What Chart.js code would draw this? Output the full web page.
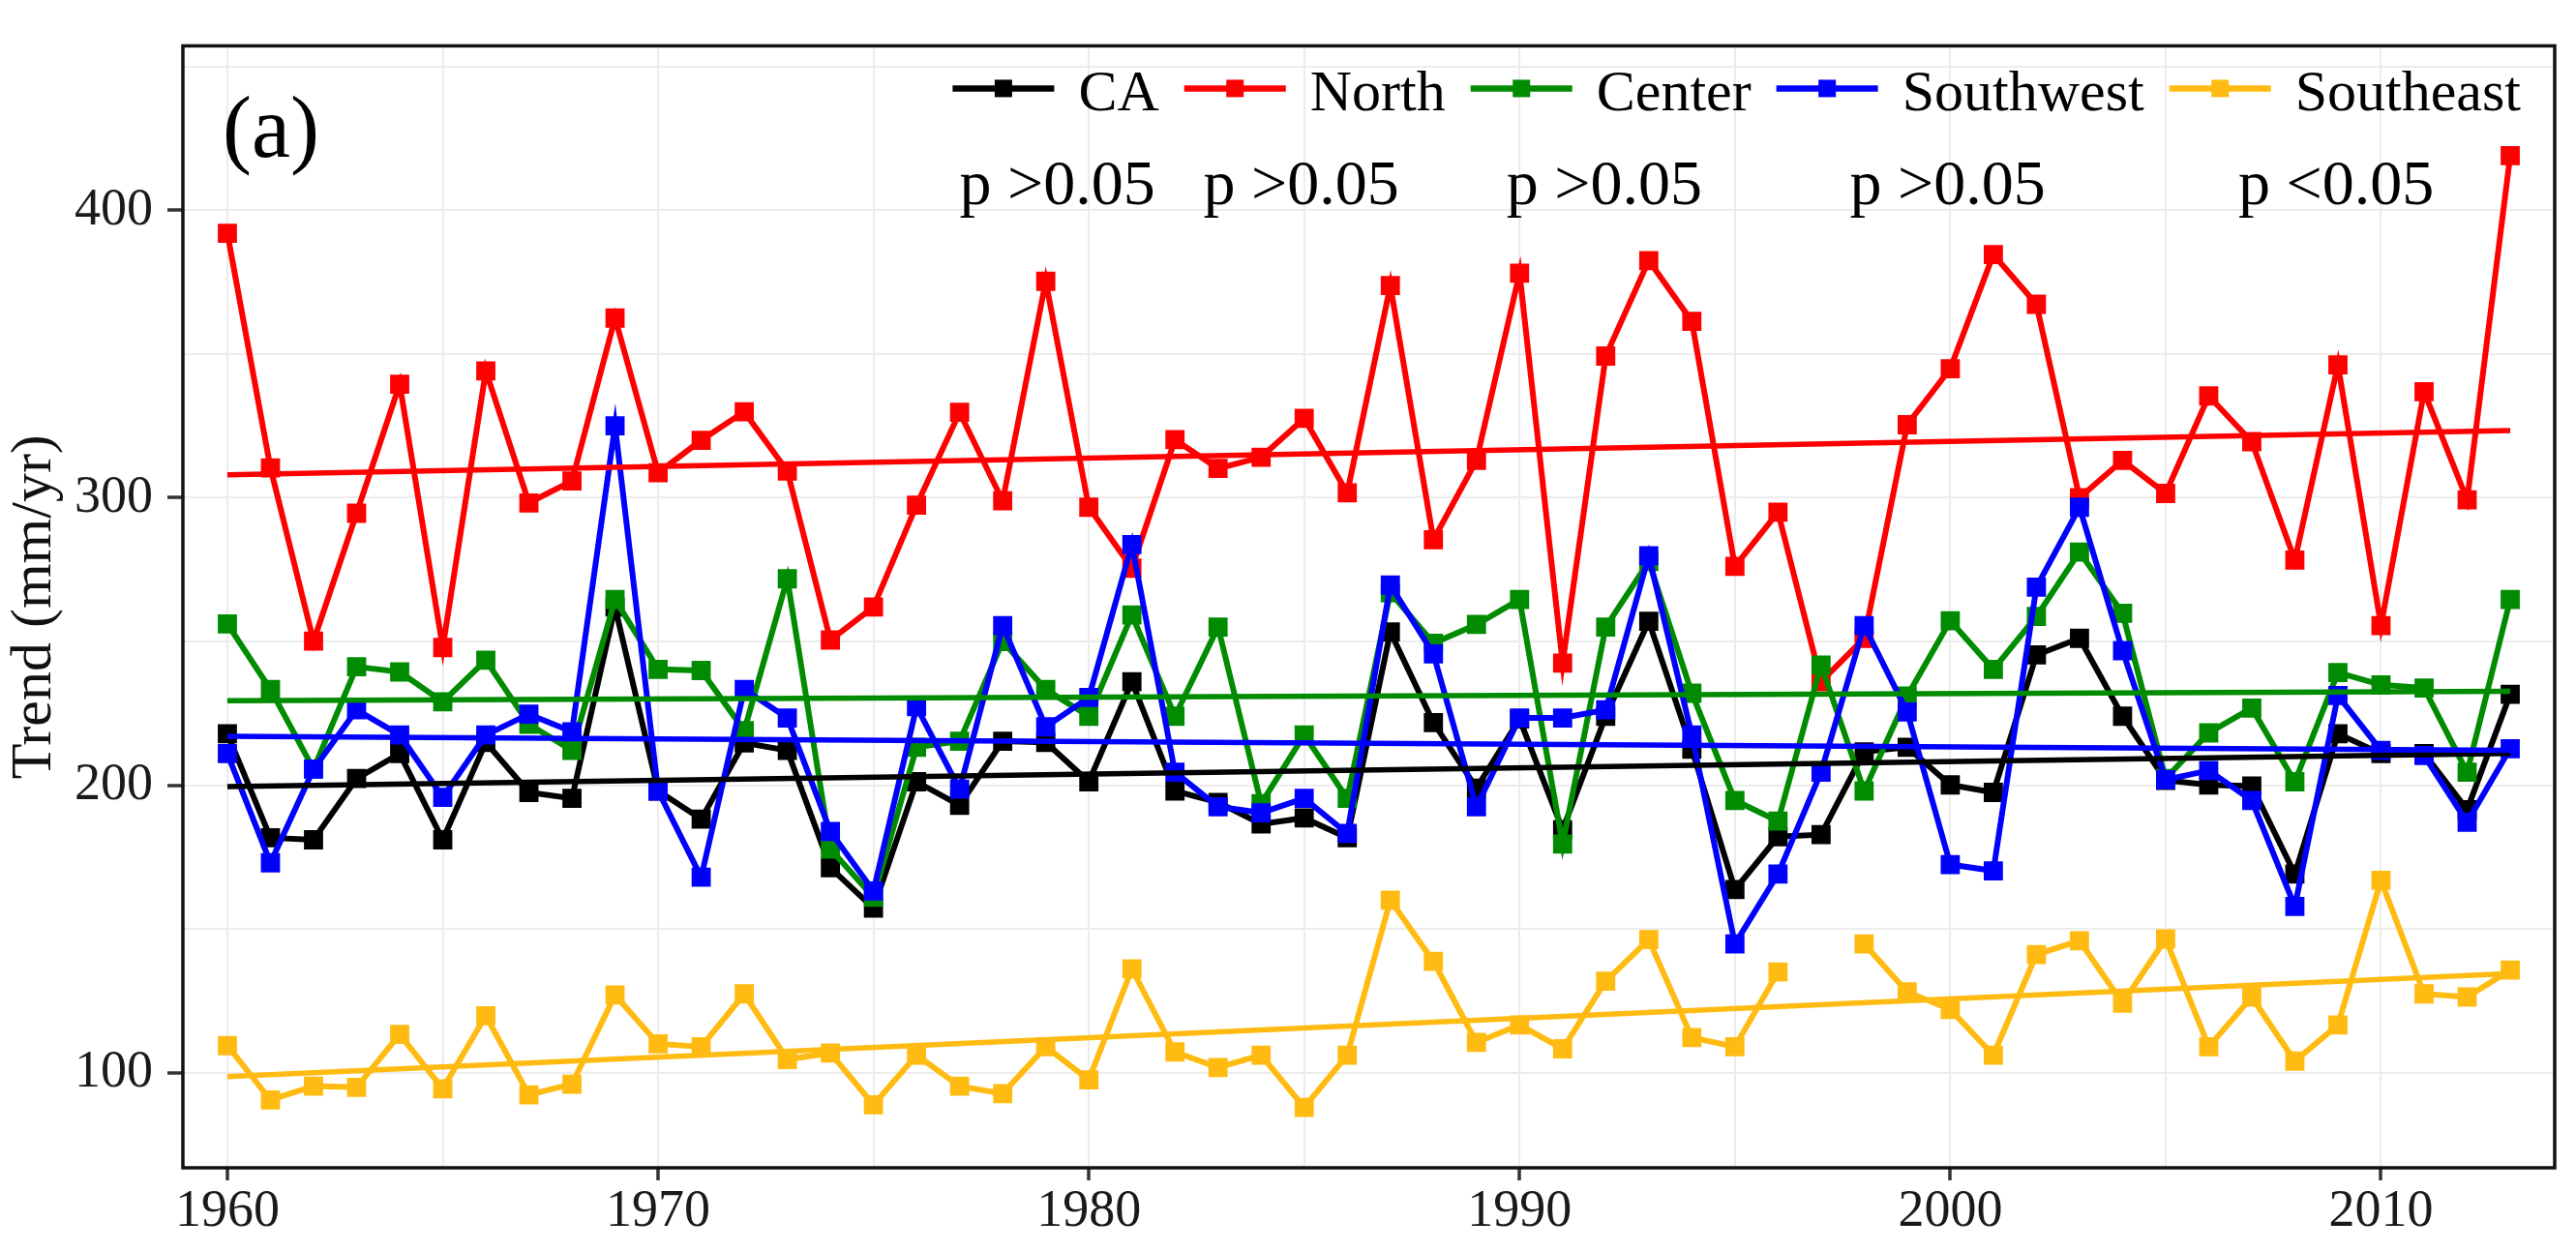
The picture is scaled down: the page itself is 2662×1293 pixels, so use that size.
<!DOCTYPE html>
<html>
<head>
<meta charset="utf-8">
<title>Trend (mm/yr)</title>
<script src="https://cdn.jsdelivr.net/npm/chart.js@4.4.1/dist/chart.umd.min.js"></script>
<style>
  html, body { margin: 0; padding: 0; background: #fff; }
  #trendChart { display: block; }
</style>
</head>
<body>
<canvas id="trendChart" width="2662" height="1293"></canvas>
<script>
// years on the x axis
const years = [1960, 1961, 1962, 1963, 1964, 1965, 1966, 1967, 1968, 1969,
               1970, 1971, 1972, 1973, 1974, 1975, 1976, 1977, 1978, 1979,
               1980, 1981, 1982, 1983, 1984, 1985, 1986, 1987, 1988, 1989,
               1990, 1991, 1992, 1993, 1994, 1995, 1996, 1997, 1998, 1999,
               2000, 2001, 2002, 2003, 2004, 2005, 2006, 2007, 2008, 2009,
               2010, 2011, 2012, 2013];

const seriesNames = ["CA", "North", "Center", "Southwest", "Southeast"];

const caValues = [217.9, 181.7, 181.0, 202.3, 211.0, 181.0, 214.9, 197.5, 195.4, 262.0,
                  198.0, 188.2, 214.7, 212.1, 171.3, 157.2, 201.2, 193.0, 215.3, 214.9,
                  201.2, 236.0, 198.0, 194.0, 186.5, 188.6, 181.7, 253.3, 221.8, 199.0,
                  223.0, 184.5, 224.0, 257.0, 212.5, 163.7, 182.1, 182.8, 211.6, 213.2,
                  200.1, 197.5, 245.3, 251.1, 224.0, 201.7, 200.1, 199.7, 169.1, 217.9,
                  211.0, 211.0, 191.5, 231.6];

const northValues = [392.0, 310.4, 250.1, 294.6, 339.5, 247.9, 344.1, 298.2, 305.8, 362.5,
                     308.7, 320.0, 329.9, 309.3, 250.5, 262.0, 297.4, 329.7, 298.9, 375.3,
                     296.7, 275.5, 320.2, 310.2, 314.1, 327.6, 301.7, 373.8, 285.4, 313.0,
                     378.1, 242.5, 349.3, 382.5, 361.4, 276.1, 295.0, 236.0, 251.1, 325.4,
                     344.9, 384.6, 367.3, 300.0, 313.0, 301.5, 335.4, 319.5, 278.3, 346.2,
                     255.5, 336.9, 299.3, 419.0];

const centerValues = [256.1, 233.3, 205.6, 241.2, 239.4, 229.0, 243.5, 221.2, 212.1, 264.6,
                      240.3, 239.9, 219.0, 271.8, 177.8, 161.0, 213.2, 215.3, 250.0, 233.3,
                      224.0, 259.2, 224.0, 255.0, 193.6, 217.5, 195.4, 267.0, 249.4, 255.9,
                      264.6, 179.5, 255.0, 277.8, 232.0, 194.7, 187.5, 241.8, 198.0, 231.0,
                      257.2, 240.3, 258.7, 281.1, 259.8, 202.3, 218.2, 226.8, 201.2, 239.2,
                      234.9, 233.8, 204.5, 264.6];

const southwestValues = [211.0, 173.0, 205.6, 226.2, 217.5, 195.8, 217.5, 224.7, 218.6, 325.0,
                         198.0, 168.0, 233.3, 223.4, 183.9, 163.2, 227.3, 198.6, 255.5, 220.3,
                         230.5, 283.7, 204.5, 192.5, 190.4, 195.4, 183.2, 269.6, 245.7, 192.5,
                         223.4, 223.4, 226.2, 279.8, 217.5, 144.8, 169.1, 204.5, 255.5, 225.5,
                         172.4, 170.2, 268.9, 296.7, 246.8, 201.9, 205.1, 194.7, 157.8, 231.2,
                         212.1, 210.3, 187.1, 212.7];

// 1997 is missing for the southeast
const southeastValues = [109.4, 90.5, 95.3, 94.9, 113.3, 94.4, 119.8, 92.3, 96.0, 127.0,
                         110.0, 109.0, 127.4, 104.6, 106.8, 88.8, 106.1, 95.3, 92.7, 109.0,
                         97.5, 136.1, 107.2, 101.8, 106.1, 87.9, 106.1, 160.0, 138.7, 110.5,
                         116.6, 108.3, 131.8, 146.3, 112.2, 109.0, 135.0, null, 144.8, 128.1,
                         122.0, 106.1, 141.1, 145.9, 124.2, 146.5, 109.0, 126.3, 104.0, 116.6,
                         166.9, 127.4, 126.3, 135.7];

// fitted trend lines, value at 1960 and at 2013
const trendStart = [199.5, 308.0, 229.4, 217.0, 98.6];
const trendEnd   = [211.0, 323.4, 232.7, 212.1, 134.5];

const pLabels = ["p >0.05", "p >0.05", "p >0.05", "p >0.05", "p <0.05"];

const xTickLabels = [1960, 1970, 1980, 1990, 2000, 2010];
const xGridValues = [1960, 1965, 1970, 1975, 1980, 1985, 1990, 1995, 2000, 2005, 2010];
const yTickLabels = [100, 200, 300, 400];
const yGridValues = [100, 150, 200, 250, 300, 350, 400, 450];

const colors = ["#000000", "#ff0000", "#008b00", "#0000ff", "#ffbb12"];
const serif = "'Liberation Serif', 'DejaVu Serif', serif";

const allValues = [caValues, northValues, centerValues, southwestValues, southeastValues];

function toPoints(values) {
    return years.map((yr, i) => ({ x: yr, y: values[i] }));
}

const datasets = [];
allValues.forEach((vals, i) => {
    datasets.push({
        label: seriesNames[i],
        data: toPoints(vals),
        borderColor: colors[i],
        backgroundColor: colors[i],
        borderWidth: 6,
        pointStyle: 'rect',
        pointRadius: 14,
        pointBorderWidth: 0,
        pointHoverRadius: 14,
        spanGaps: false,
        tension: 0,
        order: 20 - i
    });
});
allValues.forEach((vals, i) => {
    datasets.push({
        label: seriesNames[i] + " trend",
        data: [{ x: years[0], y: trendStart[i] }, { x: years[years.length - 1], y: trendEnd[i] }],
        borderColor: colors[i],
        borderWidth: 5.5,
        pointRadius: 0,
        pointHoverRadius: 0,
        order: 10 - i
    });
});

// frame, legend, panel letter and p-value notes
const decorPlugin = {
    id: 'decor',
    afterDraw(chart) {
        const ctx = chart.ctx;
        const a = chart.chartArea;
        const yScale = chart.scales.y;
        const xScale = chart.scales.x;
        ctx.save();

        ctx.strokeStyle = '#111';
        ctx.lineWidth = 3.5;
        ctx.strokeRect(a.left, a.top, a.right - a.left, a.bottom - a.top);

        // legend, right aligned in the top of the panel
        ctx.font = '60px ' + serif;
        const lineLen = 105, textGap = 25, itemGap = 26;
        const widths = seriesNames.map(n => ctx.measureText(n).width);
        let total = itemGap * (seriesNames.length - 1);
        widths.forEach(w => { total += lineLen + textGap + w; });
        let cx = a.right - 35 - total;
        const ly = a.top + 44;
        seriesNames.forEach((name, i) => {
            ctx.strokeStyle = colors[i];
            ctx.lineWidth = 6.5;
            ctx.beginPath();
            ctx.moveTo(cx, ly);
            ctx.lineTo(cx + lineLen, ly);
            ctx.stroke();
            ctx.fillStyle = colors[i];
            ctx.fillRect(cx + lineLen / 2 - 9, ly - 9, 18, 18);
            ctx.fillStyle = '#000';
            ctx.textAlign = 'left';
            ctx.textBaseline = 'alphabetic';
            ctx.fillText(name, cx + lineLen + textGap, a.top + 67);
            cx += lineLen + textGap + widths[i] + itemGap;
        });

        // p-value notes
        const pYears = [1979.27, 1984.93, 1991.97, 1999.94, 2008.96];
        ctx.font = '66px ' + serif;
        ctx.textAlign = 'center';
        ctx.fillStyle = '#000';
        pLabels.forEach((t, i) => {
            ctx.fillText(t, xScale.getPixelForValue(pYears[i]), yScale.getPixelForValue(402));
        });

        ctx.font = '90px ' + serif;
        ctx.textAlign = 'left';
        ctx.fillText('(a)', a.left + 41, a.top + 115);

        ctx.restore();
    }
};

const ctx = document.getElementById('trendChart').getContext('2d');
new Chart(ctx, {
    type: 'line',
    data: { datasets: datasets },
    options: {
        responsive: false,
        animation: false,
        devicePixelRatio: 1,
        layout: { padding: { left: 0, top: 26, right: 22, bottom: 0 } },
        plugins: {
            legend: { display: false },
            tooltip: { enabled: false }
        },
        scales: {
            x: {
                type: 'linear',
                min: 1958.967,
                max: 2014.033,
                afterFit: scale => { scale.height = 86; },
                afterBuildTicks: scale => { scale.ticks = xGridValues.map(v => ({ value: v })); },
                border: { display: false },
                grid: {
                    color: '#ececec',
                    lineWidth: 2,
                    tickLength: 13,
                    tickWidth: 3.5,
                    tickColor: c => (c.tick && xTickLabels.includes(c.tick.value)) ? '#333' : 'rgba(0,0,0,0)'
                },
                ticks: {
                    padding: 0,
                    maxRotation: 0,
                    autoSkip: false,
                    color: '#1a1a1a',
                    font: { family: serif, size: 54 },
                    callback: v => xTickLabels.includes(v) ? String(v) : ''
                }
            },
            y: {
                min: 66.9,
                max: 457.2,
                afterFit: scale => { scale.width = 189; },
                afterBuildTicks: scale => { scale.ticks = yGridValues.map(v => ({ value: v })); },
                border: { display: false },
                grid: {
                    color: '#ececec',
                    lineWidth: 2,
                    tickLength: 16,
                    tickWidth: 3.5,
                    tickColor: c => (c.tick && yTickLabels.includes(c.tick.value)) ? '#333' : 'rgba(0,0,0,0)'
                },
                ticks: {
                    padding: 15,
                    autoSkip: false,
                    color: '#1a1a1a',
                    font: { family: serif, size: 54 },
                    callback: v => yTickLabels.includes(v) ? String(v) : ''
                },
                title: {
                    display: true,
                    text: 'Trend (mm/yr)',
                    color: '#111',
                    padding: { top: 0, bottom: 0 },
                    font: { family: serif, size: 60 }
                }
            }
        }
    },
    plugins: [decorPlugin]
});
</script>
</body>
</html>
